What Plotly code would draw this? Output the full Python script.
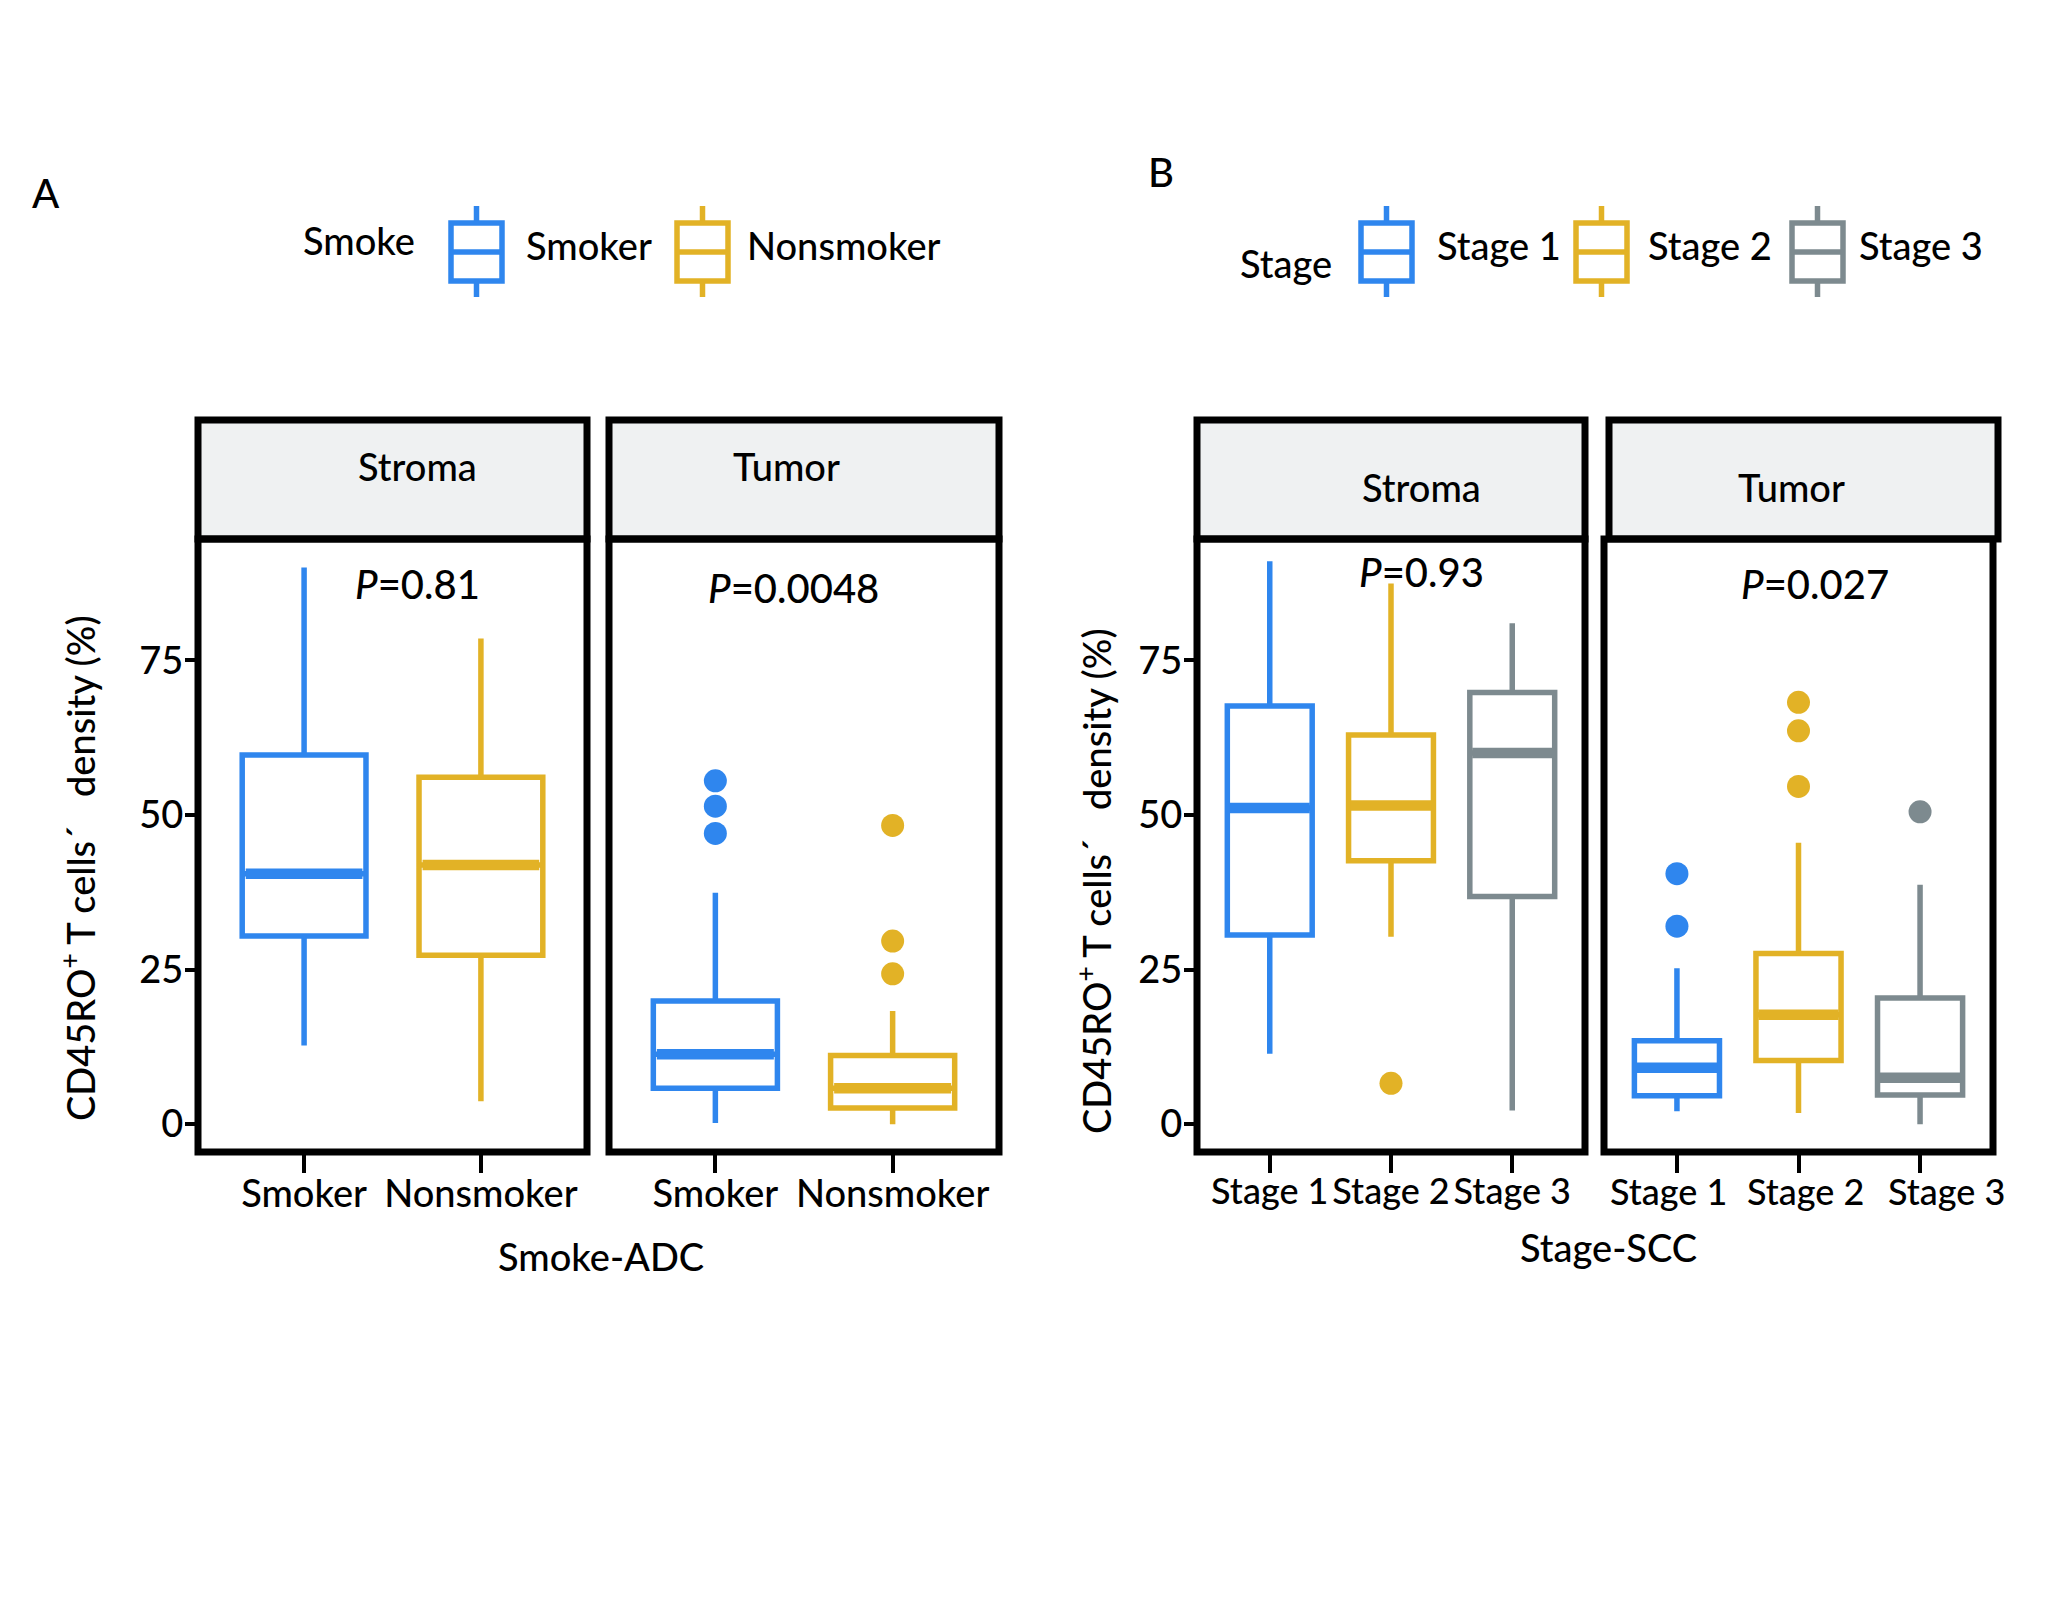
import plotly.graph_objects as go

W, H = 2048, 1613
FONT = "Lato"
WEIGHT = 500

# ---------------- data ----------------
smoke_groups = ["Smoker", "Nonsmoker"]
a_stroma_lower = [12.7, 3.7]
a_stroma_q1 = [30.4, 27.3]
a_stroma_median = [40.5, 41.9]
a_stroma_q3 = [59.7, 56.1]
a_stroma_upper = [90.0, 78.5]
a_stroma_outliers = [[], []]

a_tumor_lower = [0.2, 0.0]
a_tumor_q1 = [5.8, 2.6]
a_tumor_median = [11.3, 5.8]
a_tumor_q3 = [19.9, 11.1]
a_tumor_upper = [37.4, 18.3]
a_tumor_outliers = [[55.5, 51.4, 47.0], [48.3, 29.6, 24.3]]

stage_groups = ["Stage 1", "Stage 2", "Stage 3"]
b_stroma_lower = [11.4, 30.3, 2.2]
b_stroma_q1 = [30.6, 42.6, 36.8]
b_stroma_median = [51.1, 51.5, 60.0]
b_stroma_q3 = [67.6, 62.9, 69.8]
b_stroma_upper = [91.0, 87.4, 81.0]
b_stroma_outliers = [[], [6.6], []]

b_tumor_lower = [2.1, 1.8, 0.0]
b_tumor_q1 = [4.6, 10.3, 4.7]
b_tumor_median = [9.1, 17.7, 7.5]
b_tumor_q3 = [13.5, 27.6, 20.4]
b_tumor_upper = [25.2, 45.5, 38.7]
b_tumor_outliers = [[40.5, 32.0], [68.2, 63.6, 54.6], [50.5]]

y_ticks = [0, 25, 50, 75]
p_labels = ["0.81", "0.0048", "0.93", "0.027"]
strip_labels = ["Stroma", "Tumor", "Stroma", "Tumor"]

BLUE = "#2F86EE"
YELLOW = "#E2B226"
GRAY = "#7D8A8F"
smoke_colors = [BLUE, YELLOW]
stage_colors = [BLUE, YELLOW, GRAY]


def px(x):
    return x / W


def py(y):
    return 1 - y / H


def tfont(size=38):
    return dict(family=FONT, size=size, color="black", weight=WEIGHT)


PLOT_TOP, PLOT_BOT, STRIP_TOP = 539, 1152, 420

panels = [
    dict(n=1, x0=198, x1=587, sx0=198, sx1=587, groups=smoke_groups, colors=smoke_colors,
         tsize=38, label_shift=None,
         stats=(a_stroma_lower, a_stroma_q1, a_stroma_median, a_stroma_q3, a_stroma_upper),
         outl=a_stroma_outliers, ylab=True, strip_xy=(417, 466), p_xy=(417, 584)),
    dict(n=2, x0=609, x1=999, sx0=609, sx1=999, groups=smoke_groups, colors=smoke_colors,
         tsize=38, label_shift=None,
         stats=(a_tumor_lower, a_tumor_q1, a_tumor_median, a_tumor_q3, a_tumor_upper),
         outl=a_tumor_outliers, ylab=False, strip_xy=(786, 466), p_xy=(793, 588)),
    dict(n=3, x0=1197, x1=1585, sx0=1197, sx1=1585, groups=stage_groups, colors=stage_colors,
         tsize=36, label_shift=None,
         stats=(b_stroma_lower, b_stroma_q1, b_stroma_median, b_stroma_q3, b_stroma_upper),
         outl=b_stroma_outliers, ylab=True, strip_xy=(1421, 487), p_xy=(1421, 572)),
    dict(n=4, x0=1604, x1=1993, sx0=1609, sx1=1998, groups=stage_groups, colors=stage_colors,
         tsize=36, label_shift=[-0.07, 0.06, 0.22],
         stats=(b_tumor_lower, b_tumor_q1, b_tumor_median, b_tumor_q3, b_tumor_upper),
         outl=b_tumor_outliers, ylab=False, strip_xy=(1791, 487), p_xy=(1815, 584)),
]

BOXW = 0.7
fig = go.Figure()
shapes = []
annotations = []
layout_axes = {}

for k, p in enumerate(panels):
    n = p["n"]
    xa = "x" if n == 1 else f"x{n}"
    ya = "y" if n == 1 else f"y{n}"
    lo, q1, md, q3, up = p["stats"]
    for i, g in enumerate(p["groups"]):
        c = p["colors"][i]
        fig.add_trace(go.Box(
            x=[i], q1=[q1[i]], median=[md[i]], q3=[q3[i]],
            lowerfence=[lo[i]], upperfence=[up[i]], width=BOXW,
            line=dict(color=c, width=5.5), fillcolor="rgba(255,255,255,0)",
            whiskerwidth=0, boxpoints=False, name=g, showlegend=False,
            xaxis=xa, yaxis=ya))
        fig.add_trace(go.Scatter(
            x=[i - BOXW / 2 + 0.02, i + BOXW / 2 - 0.02], y=[md[i], md[i]],
            mode="lines", line=dict(color=c, width=10.5), showlegend=False,
            hoverinfo="skip", xaxis=xa, yaxis=ya))
        if p["outl"][i]:
            fig.add_trace(go.Scatter(
                x=[i] * len(p["outl"][i]), y=p["outl"][i], mode="markers",
                marker=dict(color=c, size=23, line=dict(width=0)),
                showlegend=False, xaxis=xa, yaxis=ya))
    ng = len(p["groups"])
    shift = p["label_shift"]
    layout_axes["xaxis" if n == 1 else f"xaxis{n}"] = dict(
        domain=[px(p["x0"]), px(p["x1"])], range=[-0.6, ng - 0.4],
        tickvals=list(range(ng)), ticktext=p["groups"], showticklabels=shift is None,
        showgrid=False, zeroline=False, showline=False, ticks="outside", ticklen=20,
        tickwidth=4, tickcolor="black", tickfont=tfont(p["tsize"]), tickangle=0,
        ticklabelstandoff=-12, anchor=ya, fixedrange=True)
    if shift is not None:
        # category labels drawn as annotations, slightly spread as in the reference
        for i, g in enumerate(p["groups"]):
            annotations.append(dict(text=g, x=i + shift[i], y=py(1191), xref=xa, yref="paper",
                                    showarrow=False, xanchor="center", yanchor="middle",
                                    font=tfont(p["tsize"])))
    layout_axes["yaxis" if n == 1 else f"yaxis{n}"] = dict(
        domain=[py(PLOT_BOT), py(PLOT_TOP)], range=[-4.5, 94.6],
        tickvals=y_ticks, showticklabels=p["ylab"], showgrid=False,
        zeroline=False, showline=False,
        ticks="outside" if p["ylab"] else "", ticklen=12, tickwidth=4,
        tickcolor="black", tickfont=tfont(38), ticklabelstandoff=-6,
        anchor=xa, fixedrange=True)
    # strip
    shapes.append(dict(type="rect", xref="paper", yref="paper",
                       x0=px(p["sx0"]), x1=px(p["sx1"]), y0=py(PLOT_TOP), y1=py(STRIP_TOP),
                       fillcolor="#EFF1F2", line=dict(color="black", width=7)))
    # panel border
    shapes.append(dict(type="rect", xref="paper", yref="paper",
                       x0=px(p["x0"]), x1=px(p["x1"]), y0=py(PLOT_BOT), y1=py(PLOT_TOP),
                       line=dict(color="black", width=7), layer="above"))
    sx, sy = p["strip_xy"]
    annotations.append(dict(text=strip_labels[k], x=px(sx), y=py(sy), xref="paper", yref="paper",
                            showarrow=False, xanchor="center", yanchor="middle",
                            font=tfont(38)))
    qx, qy = p["p_xy"]
    annotations.append(dict(text=f"<i>P</i>={p_labels[k]}", x=px(qx), y=py(qy), xref="paper", yref="paper",
                            showarrow=False, xanchor="center", yanchor="middle",
                            font=tfont(40)))

# axis titles
ytitle = "CD45RO<sup>+</sup> T cells\u00b4\u00a0\u00a0\u00a0density (%)"
for (x, y) in [(78, 868), (1094, 881)]:
    annotations.append(dict(text=ytitle, x=px(x), y=py(y), xref="paper", yref="paper",
                            showarrow=False, textangle=-90, xanchor="center", yanchor="middle",
                            font=tfont(38)))
for (txt, x, y) in [("Smoke-ADC", 601, 1256), ("Stage-SCC", 1608, 1247)]:
    annotations.append(dict(text=txt, x=px(x), y=py(y), xref="paper", yref="paper",
                            showarrow=False, xanchor="center", yanchor="middle",
                            font=tfont(38)))

# panel letters
for (txt, x, y) in [("A", 46, 193), ("B", 1161, 172)]:
    annotations.append(dict(text=txt, x=px(x), y=py(y), xref="paper", yref="paper",
                            showarrow=False, xanchor="center", yanchor="middle",
                            font=tfont(40)))


# legends (drawn manually)
def legend_key(x0, color):
    x1 = x0 + 51
    xc = (x0 + x1) / 2
    s = []
    s.append(dict(type="rect", xref="paper", yref="paper", x0=px(x0), x1=px(x1),
                  y0=py(281), y1=py(223), line=dict(color=color, width=5.5)))
    s.append(dict(type="line", xref="paper", yref="paper", x0=px(x0), x1=px(x1),
                  y0=py(252), y1=py(252), line=dict(color=color, width=5.5)))
    s.append(dict(type="line", xref="paper", yref="paper", x0=px(xc), x1=px(xc),
                  y0=py(206), y1=py(223), line=dict(color=color, width=5.5)))
    s.append(dict(type="line", xref="paper", yref="paper", x0=px(xc), x1=px(xc),
                  y0=py(281), y1=py(297), line=dict(color=color, width=5.5)))
    return s


legendA = dict(title=("Smoke", 359, 240), keys=[451, 677], texts=[524, 745],
               labels=smoke_groups, colors=smoke_colors, ty=245)
legendB = dict(title=("Stage", 1286, 263), keys=[1361, 1576, 1792], texts=[1435, 1646, 1857],
               labels=stage_groups, colors=stage_colors, ty=245)
for L in [legendA, legendB]:
    t, tx, ty = L["title"]
    annotations.append(dict(text=t, x=px(tx), y=py(ty), xref="paper", yref="paper",
                            showarrow=False, xanchor="center", yanchor="middle",
                            font=tfont(38)))
    for kx, txx, lab, col in zip(L["keys"], L["texts"], L["labels"], L["colors"]):
        shapes.extend(legend_key(kx, col))
        annotations.append(dict(text=lab, x=px(txx), y=py(L["ty"]), xref="paper", yref="paper",
                                showarrow=False, xanchor="left", yanchor="middle",
                                font=tfont(38)))

fig.update_layout(
    width=W, height=H, autosize=False,
    margin=dict(l=0, r=0, t=0, b=0),
    paper_bgcolor="white", plot_bgcolor="white",
    showlegend=False, shapes=shapes, annotations=annotations,
    font=dict(family=FONT, size=38, color="black"),
    **layout_axes,
)

fig.write_html(
    "out.html",
    config={"displayModeBar": False},
    post_script="document.body.style.margin='0px';document.body.style.overflow='hidden';",
)
